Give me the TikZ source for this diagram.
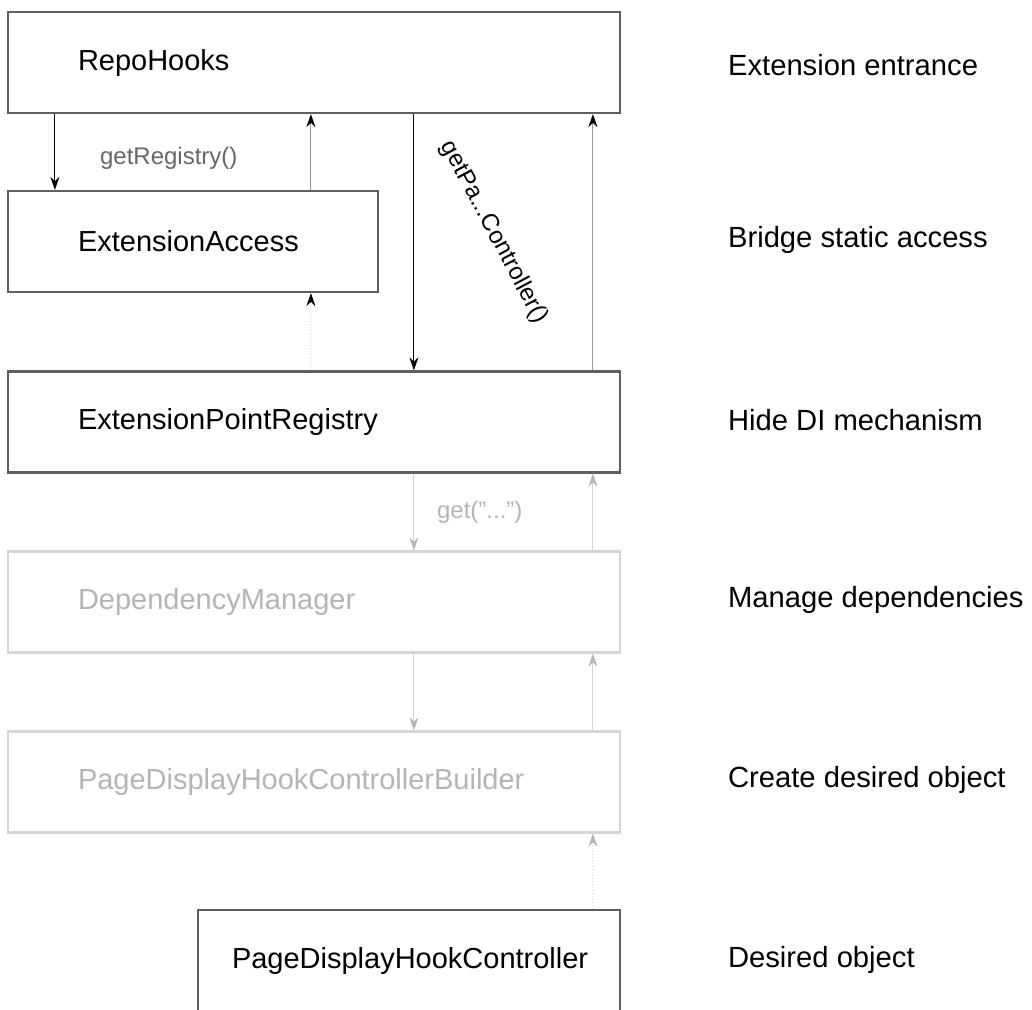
\documentclass[tikz,border=0pt]{standalone}
\usepackage{xcolor}
\usepackage{fontspec}
\setmainfont{Liberation Sans}
\usepackage{tikz}
\usetikzlibrary{positioning,arrows.meta,calc}

\definecolor{boxdark}{RGB}{95,95,95}
\definecolor{boxlight}{RGB}{212,212,212}
\definecolor{txtlight}{RGB}{180,180,180}
\definecolor{linegray}{RGB}{150,150,150}

\begin{document}
\begin{tikzpicture}[x=0.5pt,y=-0.5pt,
        box/.style={draw=boxdark,line width=1.1pt,minimum height=50.5pt,inner xsep=35pt,
            text width=#1,align=left,font=\fontsize{14.5}{16}\selectfont},
        lightbox/.style={box=#1,draw=boxlight,text=txtlight},
        layer/.style={anchor=west,font=\fontsize{14.6}{16}\selectfont},
        call/.style={line width=0.5pt,-{Stealth[length=6.5pt,width=4.5pt]}},
        ret/.style={call,draw=linegray,-{Stealth[length=6.5pt,width=4.5pt,color=black]}},
        lightcall/.style={call,draw=boxlight,-{Stealth[length=6.5pt,width=4.5pt,color=txtlight]}},
        tag/.style={font=\fontsize{12}{14}\selectfont}]
        \clip (0,0) rectangle (1032,1009);
        % layers of the lookup
        \node[box=236pt] (repo) at (314,62.5) {RepoHooks};
        \node[box=115pt] (access) at (193,241.5) {ExtensionAccess};
        \node[box=236pt] (registry) at (314,422) {ExtensionPointRegistry};
        \node[lightbox=236pt] (depman) at (314,602) {DependencyManager};
        \node[lightbox=236pt] (builder) at (314,782) {PageDisplayHookControllerBuilder};
        \node[box=177pt,inner xsep=17pt] (ctrl) at (409,960.5) {PageDisplayHookController};
        % what each layer is for
        \node[layer] (l1) at (721,65) {Extension entrance};
        \node[layer] (l2) at (721,240) {Bridge static access};
        \node[layer] (l3) at (721,420) {Hide DI mechanism};
        \node[layer] (l4) at (721,600) {Manage dependencies};
        \node[layer] (l5) at (721,780) {Create desired object};
        \node[layer] (l6) at (721,960) {Desired object};
        % calls and returns
        \draw[call] ($(repo.south west)+(48,0)$) -- ($(access.north west)+(48,0)$)
            node[tag,midway,anchor=west,xshift=19pt,yshift=-3pt,text=black!60] {getRegistry()};
        \draw[ret] ($(access.north west)+(304,0)$) -- ($(repo.south west)+(304,0)$);
        \draw[call] ($(repo.south west)+(407,0)$) -- ($(registry.north west)+(407,0)$)
            node[tag,midway,xshift=40pt,yshift=5pt,rotate=-62] {getPa...Controller()};
        \draw[ret] ($(registry.north west)+(586,0)$) -- ($(repo.south west)+(586,0)$);
        \draw[ret,draw=boxlight,densely dotted] ($(registry.north west)+(304,0)$) -- ($(access.south west)+(304,0)$);
        \draw[lightcall] ($(registry.south west)+(407,0)$) -- ($(depman.north west)+(407,0)$)
            node[tag,midway,anchor=west,xshift=8pt,text=txtlight] {get("...")};
        \draw[lightcall] ($(depman.north west)+(586,0)$) -- ($(registry.south west)+(586,0)$);
        \draw[lightcall] ($(depman.south west)+(407,0)$) -- ($(builder.north west)+(407,0)$);
        \draw[lightcall] ($(builder.north west)+(586,0)$) -- ($(depman.south west)+(586,0)$);
        \draw[lightcall,densely dotted] ($(ctrl.north west)+(396,0)$) -- ($(builder.south west)+(586,0)$);
\end{tikzpicture}
\end{document}
